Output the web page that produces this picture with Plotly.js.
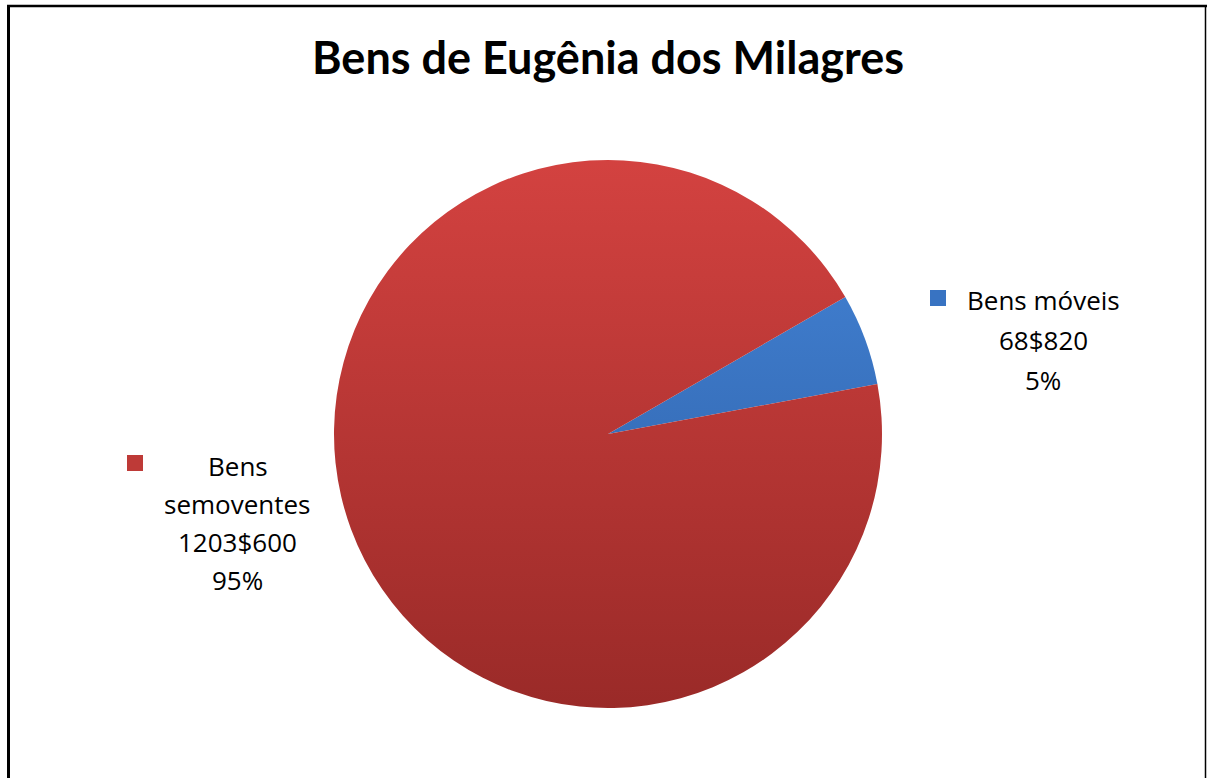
<!DOCTYPE html>
<html><head><meta charset="utf-8">
<script src="https://cdn.plot.ly/plotly-3.0.1.min.js"></script>
<style>html,body{margin:0;padding:0;background:#fff}#chart{width:1207px;height:778px}</style>
</head><body><div id="chart"></div>
<script>
// ---- data ----
const categories = ['Bens móveis', 'Bens semoventes'];
const values = [68820, 1203600];           // em réis
const labelNameLines = [['Bens móveis'], ['Bens', 'semoventes']];
const chartTitle = 'Bens de Eugênia dos Milagres';

// ---- styling / layout ----
const W = 1207, H = 778;
const sliceColors = ['#3873C2', '#BE3A37'];
const gradStops = [['#4586DA', '#2A5A9E'], ['#D34240', '#9A2A28']];
const cx = 608, cy = 434, R = 274;
const labelLayout = [
  {x: 1043, y0: 300, dy: 40, sq: [938, 298]},
  {x: 238, y0: 466, dy: 38, sq: [135, 463]}
];

const px = x => x / W;
const py = y => 1 - y / H;
const fmtReis = v => Math.floor(v / 1000) + '$' + String(v % 1000).padStart(3, '0');
const total = values.reduce((a, b) => a + b, 0);

const annotations = [];
const shapes = [];
categories.forEach((c, i) => {
  const lines = labelNameLines[i].concat([fmtReis(values[i]), Math.round(values[i] / total * 100) + '%']);
  const L = labelLayout[i];
  lines.forEach((t, k) => {
    annotations.push({text: t, x: px(L.x), y: py(L.y0 + k * L.dy), xref: 'paper', yref: 'paper',
      xanchor: 'center', yanchor: 'middle', showarrow: false,
      font: {family: 'Open Sans', size: 26, color: '#000'}});
  });
  shapes.push({type: 'rect', xref: 'paper', yref: 'paper',
    x0: px(L.sq[0] - 8), x1: px(L.sq[0] + 8), y0: py(L.sq[1] + 8), y1: py(L.sq[1] - 8),
    fillcolor: sliceColors[i], line: {width: 0}});
});
// frame
shapes.push({type: 'line', xref: 'paper', yref: 'paper', x0: px(8.5), x1: px(8.5), y0: py(5), y1: py(780), line: {color: '#000', width: 3}});
shapes.push({type: 'line', xref: 'paper', yref: 'paper', x0: px(7), x1: px(1207), y0: py(6), y1: py(6), line: {color: '#000', width: 2.5}});
shapes.push({type: 'line', xref: 'paper', yref: 'paper', x0: px(1205.5), x1: px(1205.5), y0: py(5), y1: py(780), line: {color: '#000', width: 1.5}});

const trace = {
  type: 'pie', labels: categories, values: values, sort: false, direction: 'clockwise',
  rotation: 60, textinfo: 'none', hoverinfo: 'label+value+percent',
  marker: {colors: sliceColors, line: {width: 0}},
  domain: {x: [px(cx - R), px(cx + R)], y: [py(cy + R), py(cy - R)]}
};

const layout = {
  width: W, height: H, margin: {l: 0, r: 0, t: 0, b: 0},
  paper_bgcolor: '#fff', showlegend: false,
  title: {text: chartTitle, x: px(608), xanchor: 'center', y: py(58), yanchor: 'middle',
    font: {family: 'Lato', size: 45, color: '#000', weight: 'bold'}},
  annotations: annotations, shapes: shapes
};

Plotly.newPlot('chart', [trace], layout, {displayModeBar: false}).then(gd => {
  const svg = gd.querySelector('svg.main-svg');
  const NS = 'http://www.w3.org/2000/svg';
  let defs = svg.querySelector('defs');
  if (!defs) { defs = document.createElementNS(NS, 'defs'); svg.insertBefore(defs, svg.firstChild); }
  const paths = Array.from(gd.querySelectorAll('g.slice path.surface'));
  // the biggest slice spans the full pie height: use its box as the gradient extent
  let yTop = Infinity, yBot = -Infinity;
  paths.forEach(p => { const b = p.getBBox(); yTop = Math.min(yTop, b.y); yBot = Math.max(yBot, b.y + b.height); });
  gradStops.forEach((st, i) => {
    const g = document.createElementNS(NS, 'linearGradient');
    g.setAttribute('id', 'pieGrad' + i);
    g.setAttribute('gradientUnits', 'userSpaceOnUse');
    g.setAttribute('x1', 0); g.setAttribute('x2', 0);
    g.setAttribute('y1', yTop); g.setAttribute('y2', yBot);
    st.forEach((col, k) => {
      const s = document.createElementNS(NS, 'stop');
      s.setAttribute('offset', k === 0 ? '0' : '1');
      s.setAttribute('stop-color', col);
      g.appendChild(s);
    });
    defs.appendChild(g);
  });
  paths.forEach((p, i) => { p.style.fill = 'url(#pieGrad' + i + ')'; });
});
</script>
</body></html>
